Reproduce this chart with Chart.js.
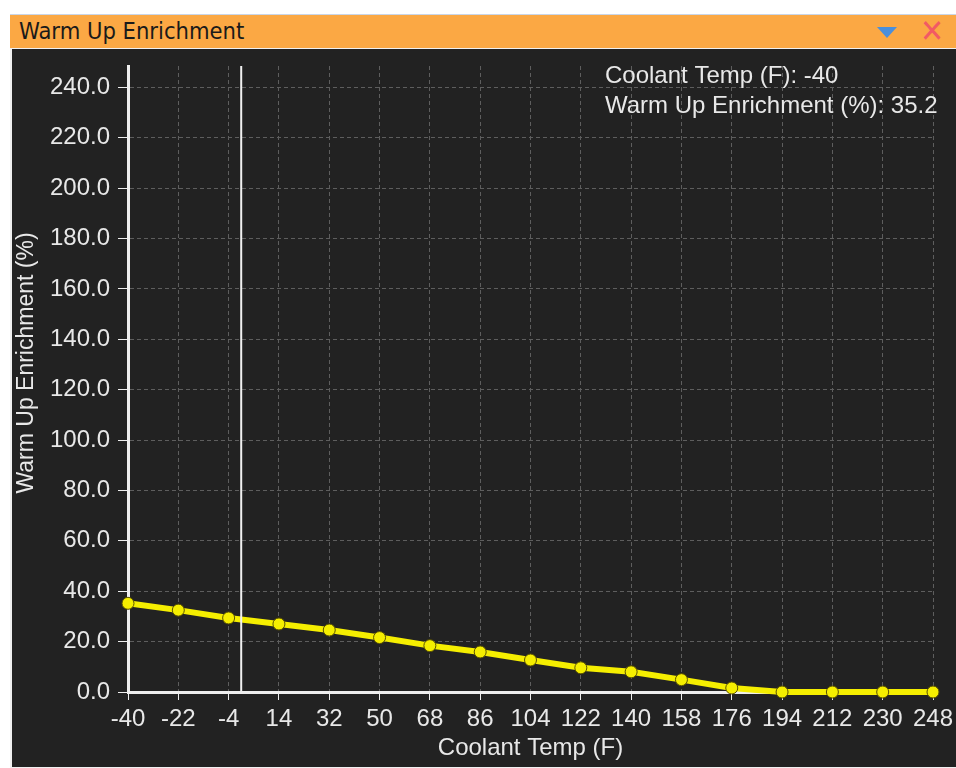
<!DOCTYPE html>
<html>
<head>
<meta charset="utf-8">
<script src="https://cdn.jsdelivr.net/npm/chart.js@4.4.0/dist/chart.umd.min.js"></script>
<style>
  html, body { margin: 0; padding: 0; background: #fff; width: 956px; height: 768px; overflow: hidden; }
  #frame { position: absolute; left: 10px; top: 14px; width: 946px; height: 754px; background: #f0f0f0; border-top: 1px solid #c9d6e8; }
  #titlebar { position: absolute; left: 0; top: 0; width: 946px; height: 33px; background: #fba844;
              font-family: "DejaVu Sans Condensed", "DejaVu Sans", sans-serif; font-size: 23.5px; color: #1a1a1a; }
  #titlebar .label { position: absolute; left: 9px; top: 2px; }
  #titlebar .drop { position: absolute; left: 867px; top: 12px; width: 0; height: 0;
                    border-left: 10px solid transparent; border-right: 10px solid transparent; border-top: 11px solid #4a8fdc; }
  #titlebar .close { position: absolute; left: 910px; top: -3px; font-size: 32px; color: #f25a64; font-weight: bold; }
  #plot { position: absolute; left: 2px; top: 34px; width: 944px; height: 718px; background: #222222; }
</style>
</head>
<body>
<div id="frame">
  <div id="titlebar"><span class="label">Warm Up Enrichment</span><span class="drop"></span><span class="close">✕</span></div>
  <div id="plot"><canvas id="chart" width="944" height="718"></canvas></div>
</div>
<script>
const coolantTemps = [-40, -22, -4, 14, 32, 50, 68, 86, 104, 122, 140, 158, 176, 194, 212, 230, 248];
const enrichment = [35.2, 32.5, 29.4, 27.0, 24.6, 21.6, 18.4, 15.9, 12.7, 9.6, 8.0, 4.9, 1.6, 0, 0, 0, 0];
const yTicks = [0, 20, 40, 60, 80, 100, 120, 140, 160, 180, 200, 220, 240];
const cursorTemp = 0.5;

const textColor = '#e8e8e8';
const fontFamily = '"Liberation Sans", Arial, sans-serif';

// white crosshair line, y axis caption and readout of the selected cell
const cursorPlugin = {
    id: 'cursor',
    afterDatasetsDraw(chart) {
        const ctx = chart.ctx;
        const area = chart.chartArea;
        const x = chart.scales.x.getPixelForValue(cursorTemp);
        ctx.save();
        ctx.strokeStyle = '#f0f0f0';
        ctx.lineWidth = 2;
        ctx.beginPath();
        ctx.moveTo(x, area.top);
        ctx.lineTo(x, area.bottom);
        ctx.stroke();

        ctx.fillStyle = textColor;
        ctx.font = '24px ' + fontFamily;
        ctx.textBaseline = 'middle';
        ctx.fillText('Coolant Temp (F): ' + coolantTemps[0], 593, 27);
        ctx.fillText('Warm Up Enrichment (%): ' + enrichment[0].toFixed(1), 593, 57);

        ctx.translate(15, 314);
        ctx.rotate(-Math.PI / 2);
        ctx.textAlign = 'center';
        ctx.font = '23px ' + fontFamily;
        ctx.fillText('Warm Up Enrichment (%)', 0, 0);
        ctx.restore();
    }
};

const points = coolantTemps.map((t, i) => ({ x: t, y: enrichment[i] }));

const config = {
    type: 'line',
    data: {
        datasets: [{
            label: 'Warm Up Enrichment (%)',
            data: points,
            borderColor: '#f5ee00',
            borderWidth: 6,
            pointRadius: 6,
            pointBackgroundColor: '#f5ee00',
            pointBorderColor: '#5a5200',
            pointBorderWidth: 1,
            tension: 0,
            clip: false
        }]
    },
    options: {
        responsive: false,
        animation: false,
        layout: { padding: { left: 0, right: 23, top: 17, bottom: 0 } },
        plugins: { legend: { display: false }, tooltip: { enabled: false } },
        scales: {
            x: {
                type: 'linear',
                min: -40,
                max: 248,
                afterBuildTicks: scale => {
                    scale.ticks = coolantTemps.map(v => ({ value: v }));
                },
                afterFit: scale => {
                    scale.height = 75;
                    scale.paddingLeft = 0;
                    scale.paddingRight = 0;
                },
                border: { color: '#eeeeee', width: 3, dash: [4, 3] },
                grid: { color: '#5e5e5e', lineWidth: 1, tickLength: 8, tickColor: '#eeeeee' },
                ticks: { color: textColor, font: { family: fontFamily, size: 24 }, padding: 5,
                         maxRotation: 0, autoSkip: false },
                title: { display: true, text: 'Coolant Temp (F)', color: textColor,
                         font: { family: fontFamily, size: 24 }, padding: { top: 0 } }
            },
            y: {
                min: 0,
                max: 248.5,
                afterBuildTicks: scale => {
                    scale.ticks = yTicks.map(v => ({ value: v }));
                },
                afterFit: scale => {
                    scale.width = 116;
                    scale.paddingTop = 0;
                    scale.paddingBottom = 0;
                },
                border: { color: '#eeeeee', width: 3, dash: [4, 3] },
                grid: { color: '#5e5e5e', lineWidth: 1, tickLength: 10, tickColor: '#eeeeee' },
                ticks: { color: textColor, font: { family: fontFamily, size: 24 }, padding: 8,
                         callback: v => v.toFixed(1) }
            }
        }
    },
    plugins: [cursorPlugin]
};

const chart = new Chart(document.getElementById('chart'), config);
</script>
</body>
</html>
